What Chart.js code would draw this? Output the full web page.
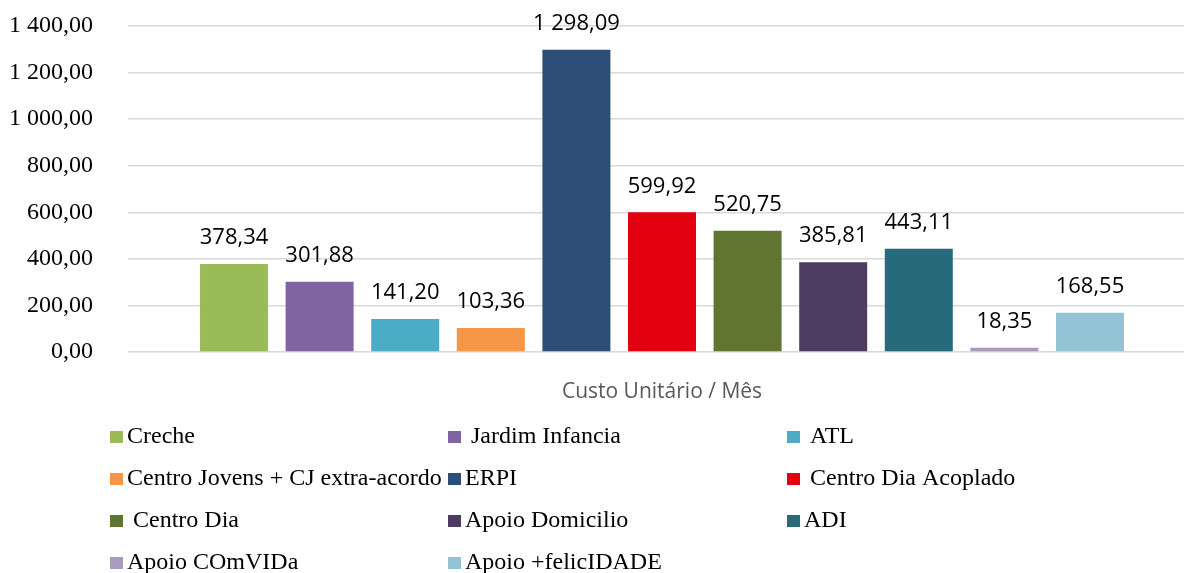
<!DOCTYPE html>
<html lang="pt">

<head>
    <meta charset="UTF-8">
    <title>Custo Unitário / Mês</title>
    <script src="https://cdn.jsdelivr.net/npm/chart.js"></script>
    <style>
        html, body {
            margin: 0;
            padding: 0;
            background: #fff;
            overflow: hidden;
        }

        #grafico-wrap {
            width: 1196px;
            height: 573px;
        }
    </style>
</head>

<body>
    <div id="grafico-wrap">
        <canvas id="graficoCusto" width="1196" height="573"></canvas>
    </div>

    <script>
        // dados
        const categorias = ['Custo Unitário / Mês'];
        const respostas = [
            'Creche', ' Jardim Infancia', ' ATL',
            'Centro Jovens + CJ extra-acordo', 'ERPI', ' Centro Dia Acoplado',
            ' Centro Dia', 'Apoio Domicilio', 'ADI',
            'Apoio COmVIDa', 'Apoio +felicIDADE'
        ];
        const custos = [378.34, 301.88, 141.20, 103.36, 1298.09, 599.92, 520.75, 385.81, 443.11, 18.35, 168.55];
        const ticksY = [0, 200, 400, 600, 800, 1000, 1200, 1400];

        const cores = [
            '#9BBB59', '#8064A2', '#4BACC6', '#F79646', '#2C4D75', '#E3000F',
            '#5F7530', '#4D3B62', '#276A7C', '#A99BBD', '#93C4D5'
        ];

        // 1 298,09
        function formatar(valor) {
            const partes = valor.toFixed(2).split('.');
            partes[0] = partes[0].replace(/\B(?=(\d{3})+(?!\d))/g, ' ');
            return partes.join(',');
        }

        const rotulosBarras = {
            id: 'rotulosBarras',
            afterDatasetsDraw(chart) {
                const ctx = chart.ctx;
                ctx.save();
                ctx.font = '22px "Open Sans"';
                ctx.fillStyle = '#000';
                ctx.textAlign = 'center';
                ctx.textBaseline = 'middle';
                chart.data.datasets.forEach((ds, i) => {
                    const barra = chart.getDatasetMeta(i).data[0];
                    ctx.fillText(formatar(ds.data[0]), barra.x, barra.y - 26);
                });
                ctx.restore();
            }
        };

        // legenda em 3 colunas, como no original
        const legendaColunas = {
            id: 'legendaColunas',
            afterDraw(chart) {
                const ctx = chart.ctx;
                const colunas = [110, 448, 787];
                const linhas = [443, 485, 527, 569];
                ctx.save();
                ctx.font = '24px "Liberation Serif"';
                ctx.textBaseline = 'alphabetic';
                ctx.textAlign = 'left';
                chart.data.datasets.forEach((ds, i) => {
                    const x = colunas[i % 3];
                    const y = linhas[Math.floor(i / 3)];
                    ctx.fillStyle = ds.backgroundColor;
                    ctx.fillRect(x, y - 12, 13, 12);
                    ctx.fillStyle = '#000';
                    ctx.fillText(ds.label, x + 17, y);
                });
                ctx.restore();
            }
        };

        const ctxCusto = document.getElementById('graficoCusto').getContext('2d');
        const graficoCusto = new Chart(ctxCusto, {
            type: 'bar',
            data: {
                labels: categorias,
                datasets: respostas.map((nome, i) => ({
                    label: nome,
                    data: [custos[i]],
                    backgroundColor: cores[i],
                    borderWidth: 0,
                    categoryPercentage: 0.8816,
                    barPercentage: 0.7944
                }))
            },
            options: {
                responsive: false,
                animation: false,
                layout: {
                    padding: { top: 26, left: 0, right: 0, bottom: 0 }
                },
                plugins: {
                    legend: { display: false },
                    tooltip: { enabled: false },
                    title: { display: false }
                },
                scales: {
                    x: {
                        grid: { display: false },
                        border: { display: false },
                        ticks: {
                            color: '#595959',
                            font: { family: 'Open Sans', size: 21 },
                            padding: 19
                        },
                        afterFit(scale) {
                            scale.height = 221;
                        }
                    },
                    y: {
                        min: ticksY[0],
                        max: ticksY[ticksY.length - 1],
                        afterBuildTicks(scale) {
                            scale.ticks = ticksY.map(v => ({ value: v }));
                        },
                        grid: {
                            color: '#d9d9d9',
                            lineWidth: 1.5,
                            drawTicks: true,
                            tickLength: 35,
                            tickColor: 'rgba(0,0,0,0)'
                        },
                        border: { display: false },
                        ticks: {
                            color: '#000',
                            font: { family: 'Liberation Serif', size: 24 },
                            padding: 0,
                            callback: (v) => formatar(v)
                        },
                        afterFit(scale) {
                            scale.width = 128;
                        }
                    }
                }
            },
            plugins: [rotulosBarras, legendaColunas]
        });
    </script>
</body>

</html>
